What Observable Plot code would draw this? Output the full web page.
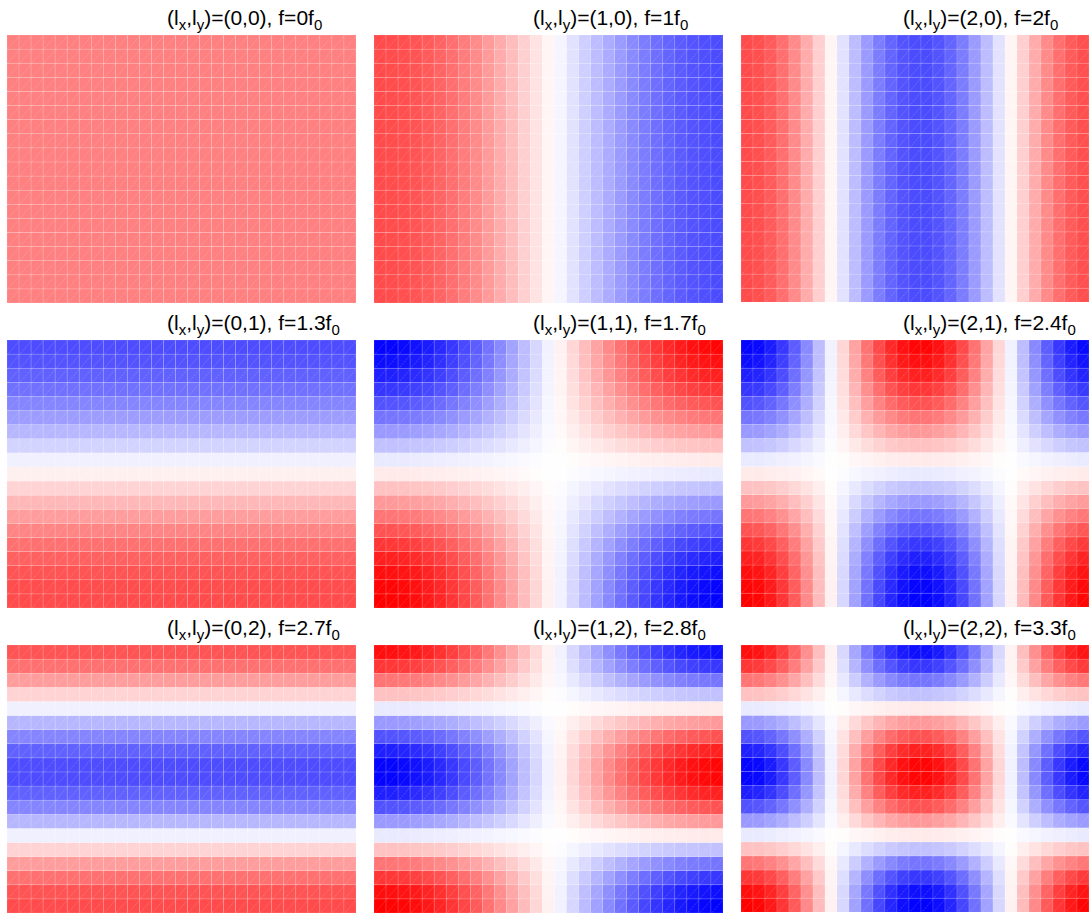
<!DOCTYPE html>
<html>
<head>
<meta charset="utf-8">
<script src="https://cdn.jsdelivr.net/npm/d3@7"></script>
<script src="https://cdn.jsdelivr.net/npm/@observablehq/plot@0.6"></script>
<style>
  html, body { margin: 0; padding: 0; background: #fff; overflow: hidden; }
  #root { position: relative; width: 1089px; height: 918px; }
  .panel { position: absolute; }
  .title {
    position: absolute; white-space: nowrap;
    font-family: "Liberation Sans", Arial, sans-serif; font-size: 21px; line-height: 21px; color: #000;
  }
  .title .sub { font-size: 15px; position: relative; top: 5px; }
  .panel svg { display: block; }
</style>
</head>
<body>
<div id="root"></div>
<script>
// Mode indices
const lxValues = [0, 1, 2];
const lyValues = [0, 1, 2];
// Frequency labels (row = ly, column = lx)
const freqLabels = [
  ["0", "1", "2"],
  ["1.3", "1.7", "2.4"],
  ["2.7", "2.8", "3.3"]
];
// Amplitude normalisation per mode number
const modeNorm = [1, 1.414, 1.414];
// Column profiles (29 columns, left to right)
const colMode0 = [1,1,1,1,1,1,1,1,1,1,1,1,1,1,1,1,1,1,1,1,1,1,1,1,1,1,1,1,1];
const colMode1 = [1.00,0.994,0.977,0.948,0.908,0.857,0.796,0.726,0.647,0.561,0.468,0.370,0.268,0.162,0.054,
  -0.054,-0.162,-0.268,-0.370,-0.468,-0.561,-0.647,-0.726,-0.796,-0.857,-0.908,-0.948,-0.977,-0.994];
const colMode2 = [1.00,0.977,0.908,0.796,0.647,0.468,0.268,0.054,-0.162,-0.370,-0.561,-0.726,-0.857,-0.948,-0.994,
  -0.994,-0.948,-0.857,-0.726,-0.561,-0.370,-0.162,0.054,0.268,0.468,0.647,0.796,0.908,0.977];
// Row profiles (19 rows, bottom to top)
const rowMode0 = [1,1,1,1,1,1,1,1,1,1,1,1,1,1,1,1,1,1,1];
const rowMode1 = [1.00,0.986,0.946,0.879,0.789,0.677,0.546,0.402,0.245,0.083,
  -0.083,-0.245,-0.402,-0.546,-0.677,-0.789,-0.879,-0.946,-0.986];
const rowMode2 = [1.00,0.946,0.789,0.546,0.245,-0.083,-0.402,-0.677,-0.879,-0.986,
  -0.986,-0.879,-0.677,-0.402,-0.083,0.245,0.546,0.789,0.946];

const colModes = [colMode0, colMode1, colMode2];
const rowModes = [rowMode0, rowMode1, rowMode2];

const panelLeft = [7, 374, 741];
const panelTop = [35, 340, 645];
const panelW = 349, panelH = 268;
const titleOffset = [160, 159, 162];

const root = document.getElementById("root");

for (const ly of lyValues) {
  for (const lx of lxValues) {
    const cx = colModes[lx], cy = rowModes[ly];
    const cells = [];
    for (let i = 0; i < cx.length; i++) {
      for (let j = 0; j < cy.length; j++) {
        cells.push({i, j, v: modeNorm[lx] * cx[i] * modeNorm[ly] * cy[j]});
      }
    }
    const chart = Plot.plot({
      width: panelW, height: panelH,
      marginTop: 0, marginRight: 0, marginBottom: 0, marginLeft: 0,
      x: {domain: [0, cx.length], axis: null},
      y: {domain: [0, cy.length], axis: null},
      color: {type: "linear", domain: [-2, 0, 2], range: ["#0000ff", "#ffffff", "#ff0000"], interpolate: "rgb"},
      marks: [
        Plot.rect(cells, {x1: "i", x2: d => d.i + 1, y1: "j", y2: d => d.j + 1, fill: "v",
          stroke: "white", strokeOpacity: 0.22, strokeWidth: 0.6}),
        Plot.link(cells, {x1: "i", y1: "j", x2: d => d.i + 1, y2: d => d.j + 1,
          stroke: "white", strokeOpacity: 0.35, strokeWidth: 0.6, strokeDasharray: "1.2,1"})
      ]
    });
    const div = document.createElement("div");
    div.className = "panel";
    div.style.left = panelLeft[lx] + "px";
    div.style.top = panelTop[ly] + "px";
    div.appendChild(chart);
    root.appendChild(div);

    const t = document.createElement("div");
    t.className = "title";
    t.style.left = (panelLeft[lx] + titleOffset[lx]) + "px";
    t.style.top = (panelTop[ly] - 28) + "px";
    t.innerHTML = `(l<span class="sub">x</span>,l<span class="sub">y</span>)=(${lx},${ly}), f=${freqLabels[ly][lx]}f<span class="sub">0</span>`;
    root.appendChild(t);
  }
}
</script>
</body>
</html>
